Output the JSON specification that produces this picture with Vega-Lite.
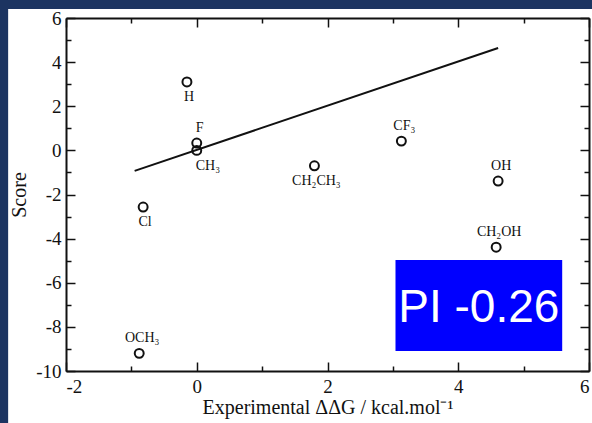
{
  "$schema": "https://vega.github.io/schema/vega-lite/v6.json",
  "width": 523,
  "height": 353,
  "autosize": {"type": "none"},
  "padding": {"left": 66, "top": 18, "right": 3, "bottom": 52},
  "background": "#1c3461",
  "config": {
    "view": {"stroke": null},
    "axis": {
      "grid": false,
      "domainColor": "#111111",
      "domainWidth": 2,
      "tickColor": "#111111",
      "tickWidth": 1.5,
      "labelFont": "Liberation Serif",
      "labelFontSize": 19,
      "labelColor": "#111111",
      "titleFont": "Liberation Serif",
      "titleFontSize": 20,
      "titleFontWeight": "normal",
      "titleColor": "#111111"
    }
  },
  "datasets": {
    "points": [
      {"group": "H", "exp": -0.15, "score": 3.1},
      {"group": "F", "exp": 0.0, "score": 0.33},
      {"group": "CH₃", "exp": 0.0, "score": 0.0},
      {"group": "Cl", "exp": -0.82, "score": -2.57},
      {"group": "OCH₃", "exp": -0.88, "score": -9.2},
      {"group": "CH₂CH₃", "exp": 1.8, "score": -0.7},
      {"group": "CF₃", "exp": 3.13, "score": 0.42},
      {"group": "OH", "exp": 4.61, "score": -1.39},
      {"group": "CH₂OH", "exp": 4.58, "score": -4.39}
    ],
    "fit": [
      {"exp": -0.95, "score": -0.93},
      {"exp": 4.61, "score": 4.64}
    ],
    "panel": [{"x1": -2.885, "x2": 7.5, "y1": 6.41, "y2": -14}],
    "box": [{"x1": 3.04, "x2": 5.59, "y1": -4.97, "y2": -9.09, "xc": 4.315, "yc": -7.78, "label": "PI -0.26"}]
  },
  "layer": [
    {
      "data": {"name": "panel"},
      "mark": {"type": "rect", "fill": "white", "clip": false},
      "encoding": {
        "x": {
          "field": "x1", "type": "quantitative",
          "scale": {"domain": [-2, 6], "nice": false, "zero": false},
          "axis": {
            "orient": "top", "labels": false, "title": null, "zindex": 1,
            "values": [-2, -1, 0, 1, 2, 3, 4, 5, 6],
            "tickSize": {"condition": {"test": "datum.value % 2 === 0", "value": -9}, "value": -5}
          }
        },
        "x2": {"field": "x2"},
        "y": {
          "field": "y1", "type": "quantitative",
          "scale": {"domain": [-10, 6], "nice": false, "zero": false},
          "axis": {
            "orient": "right", "labels": false, "title": null, "zindex": 1,
            "values": [-10, -9, -8, -7, -6, -5, -4, -3, -2, -1, 0, 1, 2, 3, 4, 5, 6],
            "tickSize": {"condition": {"test": "datum.value % 2 === 0", "value": -9}, "value": -5}
          }
        },
        "y2": {"field": "y2"}
      }
    },
    {
      "data": {"name": "box"},
      "mark": {"type": "rect", "fill": "#0000ff"},
      "encoding": {
        "x": {"field": "x1", "type": "quantitative", "axis": null},
        "x2": {"field": "x2"},
        "y": {"field": "y1", "type": "quantitative", "axis": null},
        "y2": {"field": "y2"}
      }
    },
    {
      "data": {"name": "box"},
      "mark": {"type": "text", "color": "white", "font": "Liberation Sans", "fontSize": 46, "align": "center", "baseline": "alphabetic"},
      "encoding": {
        "x": {"field": "xc", "type": "quantitative", "axis": null},
        "y": {"field": "yc", "type": "quantitative", "axis": null},
        "text": {"field": "label"}
      }
    },
    {
      "data": {"name": "fit"},
      "mark": {"type": "line", "color": "#111111", "strokeWidth": 2},
      "encoding": {
        "x": {"field": "exp", "type": "quantitative", "axis": null},
        "y": {"field": "score", "type": "quantitative", "axis": null}
      }
    },
    {
      "data": {"name": "points"},
      "mark": {"type": "point", "shape": "circle", "filled": false, "stroke": "#111111", "strokeWidth": 2, "size": 80, "opacity": 1},
      "encoding": {
        "x": {
          "field": "exp", "type": "quantitative",
          "axis": {
            "orient": "bottom", "zindex": 1,
            "title": "Experimental ΔΔG / kcal.mol⁻¹",
            "values": [-2, -1, 0, 1, 2, 3, 4, 5, 6],
            "labelExpr": "datum.value % 2 === 0 ? '' + datum.value : ''",
            "tickSize": {"condition": {"test": "datum.value % 2 === 0", "value": -9}, "value": -5},
            "labelPadding": 15,
            "titlePadding": 1
          }
        },
        "y": {
          "field": "score", "type": "quantitative",
          "axis": {
            "orient": "left", "zindex": 1,
            "title": "Score",
            "values": [-10, -9, -8, -7, -6, -5, -4, -3, -2, -1, 0, 1, 2, 3, 4, 5, 6],
            "labelExpr": "datum.value % 2 === 0 ? '' + datum.value : ''",
            "tickSize": {"condition": {"test": "datum.value % 2 === 0", "value": -9}, "value": -5},
            "labelPadding": 14,
            "titlePadding": 6
          }
        }
      }
    },
    {
      "data": {"name": "points"},
      "transform": [{"filter": "indexof(['F', 'OCH₃', 'CF₃', 'OH', 'CH₂OH'], datum.group) >= 0"}],
      "mark": {"type": "text", "font": "Liberation Serif", "fontSize": 14, "color": "#111111", "align": "center", "baseline": "middle", "dx": 3, "dy": -15},
      "encoding": {
        "x": {"field": "exp", "type": "quantitative", "axis": null},
        "y": {"field": "score", "type": "quantitative", "axis": null},
        "text": {"field": "group"}
      }
    },
    {
      "data": {"name": "points"},
      "transform": [{"filter": "indexof(['H', 'Cl', 'CH₂CH₃'], datum.group) >= 0"}],
      "mark": {"type": "text", "font": "Liberation Serif", "fontSize": 14, "color": "#111111", "align": "center", "baseline": "middle", "dx": 2, "dy": 15},
      "encoding": {
        "x": {"field": "exp", "type": "quantitative", "axis": null},
        "y": {"field": "score", "type": "quantitative", "axis": null},
        "text": {"field": "group"}
      }
    },
    {
      "data": {"name": "points"},
      "transform": [{"filter": "datum.group === 'CH₃'"}],
      "mark": {"type": "text", "font": "Liberation Serif", "fontSize": 14, "color": "#111111", "align": "left", "baseline": "middle", "dx": -1, "dy": 16},
      "encoding": {
        "x": {"field": "exp", "type": "quantitative", "axis": null},
        "y": {"field": "score", "type": "quantitative", "axis": null},
        "text": {"field": "group"}
      }
    }
  ],
  "resolve": {"axis": {"x": "independent", "y": "independent"}}
}
